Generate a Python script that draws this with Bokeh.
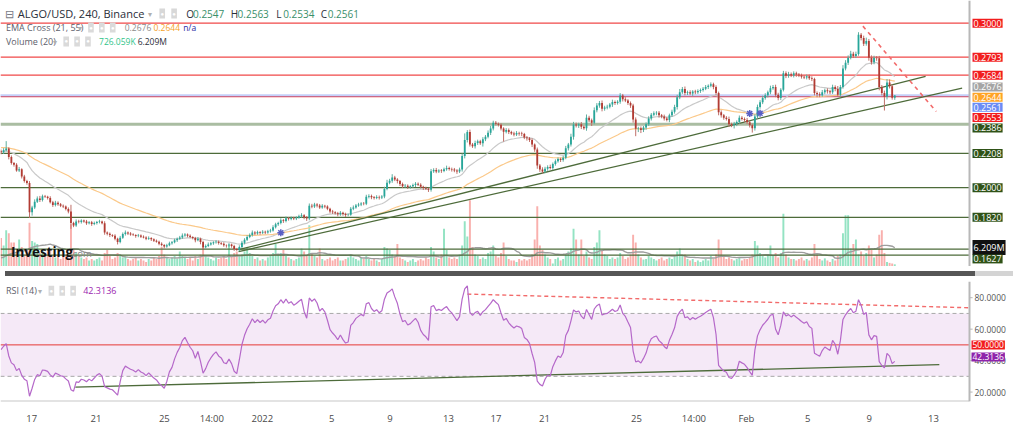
import numpy as np
from bokeh.plotting import figure
from bokeh.models import (Range1d, FixedTicker, Label, BoxAnnotation, ColumnDataSource, Div)
from bokeh.layouts import column
from bokeh.embed import file_html
from bokeh.resources import INLINE

FONT = "Open Sans"

# ---------------- data (prices in 1e-4 units, 4h candles from Dec 15) ----------------
close_e4 = [
    2215, 2228, 2238, 2186, 2150, 2140,
    2105, 2112, 2068, 2040, 2028, 1850,
    1880, 1915, 1935, 1925, 1948, 1945,
    1938, 1912, 1895, 1908, 1900, 1890,
    1886, 1870, 1856, 1785, 1770, 1795,
    1792, 1800, 1795, 1784, 1790, 1780,
    1786, 1792, 1795, 1784, 1728, 1720,
    1712, 1708, 1690, 1670, 1695, 1718,
    1728, 1722, 1716, 1712, 1706, 1710,
    1702, 1698, 1690, 1694, 1686, 1678,
    1672, 1660, 1652, 1642, 1650, 1662,
    1668, 1680, 1690, 1698, 1710, 1716,
    1708, 1700, 1694, 1680, 1690, 1670,
    1638, 1645, 1655, 1662, 1668, 1672,
    1664, 1660, 1650, 1648, 1654, 1645,
    1628, 1622, 1640, 1665, 1684, 1700,
    1712, 1728, 1722, 1730, 1726, 1732,
    1728, 1736, 1740, 1760, 1778, 1785,
    1802, 1798, 1815, 1810, 1816, 1812,
    1818, 1826, 1833, 1820, 1812, 1890,
    1885, 1898, 1892, 1880, 1890, 1885,
    1872, 1856, 1850, 1845, 1838, 1848,
    1840, 1834, 1836, 1872, 1880, 1892,
    1898, 1904, 1902, 1945, 1950, 1942,
    1938, 1944, 1940, 1946, 1992, 2030,
    2042, 2062, 2050, 2040, 2022, 2008,
    2012, 2004, 2008, 2016, 2024, 2018,
    2005, 1998, 1994, 1988, 2100, 2108,
    2098, 2104, 2102, 2112, 2120, 2114,
    2110, 2104, 2098, 2110, 2192, 2290,
    2338, 2262, 2252, 2272, 2282, 2270,
    2295, 2310, 2334, 2360, 2395, 2388,
    2382, 2360, 2340, 2350, 2338, 2330,
    2324, 2332, 2330, 2326, 2305, 2300,
    2290, 2262, 2232, 2135, 2110, 2098,
    2115, 2126, 2120, 2144, 2160, 2174,
    2168, 2182, 2240, 2262, 2310, 2384,
    2378, 2385, 2370, 2362, 2425, 2410,
    2395, 2470, 2500, 2515, 2480, 2488,
    2492, 2505, 2521, 2515, 2522, 2560,
    2538, 2530, 2515, 2500, 2415, 2358,
    2362, 2350, 2366, 2385, 2420, 2444,
    2452, 2456, 2440, 2432, 2420, 2412,
    2440, 2462, 2490, 2550, 2580, 2600,
    2575, 2580, 2572, 2584, 2580, 2588,
    2594, 2602, 2612, 2620, 2628, 2612,
    2575, 2458, 2440, 2425, 2418, 2385,
    2380, 2388, 2400, 2425, 2418, 2412,
    2398, 2380, 2362, 2432, 2490, 2520,
    2545, 2562, 2580, 2605, 2612, 2565,
    2545, 2595, 2695, 2680, 2690, 2682,
    2695, 2688, 2682, 2675, 2670, 2678,
    2665, 2660, 2575, 2568, 2562, 2580,
    2592, 2586, 2580, 2612, 2600, 2565,
    2612, 2725, 2760, 2790, 2814, 2800,
    2812, 2930, 2910, 2875, 2892, 2790,
    2762, 2790, 2786, 2612, 2575, 2552,
    2640, 2617, 2547, 2561,
]
upper_wick_e4 = [
    10, 12, 45, 8, 10, 6,   9, 14, 6, 10, 8, 12,   10, 14, 12, 15, 10, 8,
    6, 10, 8, 12, 9, 7,     8, 6, 10, 40, 8, 12,   10, 8, 6, 9, 7, 8,
    8, 6, 10, 5, 12, 6,     8, 5, 9, 6, 12, 10,    12, 6, 8, 7, 5, 9,
    6, 8, 7, 10, 5, 6,      7, 6, 8, 5, 9, 10,     8, 10, 7, 9, 12, 8,
    6, 8, 5, 7, 10, 6,      8, 10, 12, 8, 6, 9,    7, 6, 8, 5, 9, 6,
    8, 6, 10, 12, 9, 11,    10, 12, 8, 9, 6, 10,   7, 8, 10, 12, 9, 8,
    12, 8, 10, 6, 9, 7,     8, 10, 12, 6, 8, 14,   12, 10, 8, 9, 10, 6,
    8, 6, 9, 7, 8, 10,      6, 8, 7, 10, 12, 9,    10, 8, 9, 12, 10, 8,
    7, 10, 8, 9, 14, 18,    12, 20, 10, 8, 7, 9,   10, 8, 7, 9, 10, 8,
    9, 7, 8, 6, 14, 10,     12, 8, 9, 10, 14, 8,   8, 10, 9, 12, 16, 40,
    12, 15, 10, 14, 10, 9,  12, 10, 14, 15, 12, 10, 8, 9, 7, 12, 10, 8,
    10, 12, 8, 10, 7, 9,    8, 10, 7, 12, 9, 14,   12, 10, 14, 9, 12, 10,
    8, 12, 14, 10, 18, 16,  12, 10, 14, 9, 20, 12, 10, 18, 14, 12, 15, 10,
    12, 10, 14, 9, 10, 15,  10, 12, 8, 9, 10, 12,  8, 10, 9, 12, 14, 10,
    12, 9, 10, 8, 12, 10,   10, 12, 14, 15, 20, 12, 15, 10, 12, 9, 11, 10,
    9, 10, 12, 8, 12, 10,   10, 9, 12, 8, 10, 14,  10, 12, 9, 14, 10, 9,
    12, 10, 9, 14, 15, 12,  14, 12, 10, 15, 12, 14, 12, 10, 15, 12, 14, 10,
    12, 10, 9, 11, 8, 10,   10, 12, 8, 10, 12, 14, 10, 12, 9, 14, 10, 18,
    12, 20, 15, 14, 18, 12, 15, 15, 10, 14, 20, 12, 14, 12, 10, 15, 12, 15,
    20, 18, 10, 2,
]
lower_wick_e4 = [
    12, 10, 8, 14, 10, 12,  8, 10, 12, 9, 10, 34,  20, 10, 8, 12, 9, 7,
    10, 8, 12, 9, 10, 8,    10, 8, 12, 35, 10, 8,  9, 10, 8, 10, 7, 12,
    8, 10, 9, 7, 14, 10,    12, 8, 10, 15, 8, 6,   9, 10, 8, 6, 10, 7,
    8, 6, 9, 7, 10, 8,      6, 10, 8, 12, 7, 6,    8, 6, 10, 7, 9, 8,
    10, 7, 8, 12, 6, 14,    12, 8, 6, 7, 9, 8,     10, 8, 9, 12, 7, 10,
    12, 6, 8, 7, 9, 8,      7, 9, 10, 8, 12, 8,    10, 8, 9, 7, 8, 10,
    8, 12, 9, 10, 8, 9,     9, 7, 8, 12, 14, 10,   10, 8, 12, 9, 8, 10,
    9, 12, 10, 8, 12, 9,    10, 12, 8, 7, 9, 8,    8, 10, 9, 8, 10, 12,
    10, 8, 12, 9, 10, 8,    9, 12, 10, 14, 12, 10, 8, 12, 10, 9, 12, 8,
    10, 12, 8, 14, 12, 10,  10, 9, 12, 8, 9, 10,   12, 10, 14, 9, 12, 14,
    15, 12, 10, 14, 12, 10, 20, 12, 10, 14, 12, 10, 10, 12, 60, 10, 12, 9,
    12, 10, 14, 12, 10, 14, 12, 15, 14, 20, 14, 12, 10, 12, 9, 12, 10, 8,
    12, 10, 9, 14, 12, 18,  12, 15, 14, 10, 16, 12, 20, 10, 12, 14, 16, 12,
    12, 10, 14, 12, 10, 12, 14, 10, 12, 15, 20, 45, 20, 18, 12, 14, 10, 12,
    10, 12, 14, 10, 12, 9,  14, 10, 12, 15, 12, 10, 14, 12, 10, 14, 12, 10,
    12, 10, 9, 12, 10, 14,  12, 18, 14, 12, 10, 15, 12, 20, 14, 12, 10, 14,
    12, 14, 27, 15, 12, 10, 12, 10, 14, 12, 10, 15, 14, 12, 10, 14, 12, 10,
    12, 14, 10, 12, 10, 12, 10, 12, 14, 18, 12, 10, 12, 14, 12, 10, 14, 12,
    12, 10, 12, 14, 10, 12, 12, 10, 15, 14, 12, 18, 14, 12, 15, 20, 14, 83,
    16, 14, 12, 13,
]
volume_m = [
    9.5, 7.0, 12.0, 11.0, 8.0, 8.0,   5.0, 9.0, 6.5, 4.0, 5.5, 14.5,
    8.5, 8.0, 7.5, 4.5, 5.5, 4.0,     5.0, 5.5, 3.5, 3.0, 4.0, 2.5,
    3.5, 4.0, 3.0, 14.0, 6.0, 4.5,    3.5, 3.0, 2.5, 3.0, 2.0, 2.5,
    2.0, 2.5, 3.0, 2.0, 4.5, 5.5,     3.5, 2.5, 3.0, 4.5, 3.5, 3.0,
    3.5, 2.5, 2.0, 2.5, 3.0, 2.0,     2.5, 2.0, 1.5, 2.5, 2.0, 3.0,
    2.5, 3.5, 6.5, 4.0, 3.0, 2.5,     3.0, 3.5, 2.5, 5.0, 3.5, 3.0,
    2.5, 3.0, 2.0, 3.5, 2.5, 4.0,     6.5, 3.5, 3.0, 2.5, 2.0, 3.0,
    2.5, 3.0, 3.5, 2.5, 7.0, 3.5,     4.5, 5.0, 3.5, 4.0, 5.0, 6.5,
    4.5, 3.5, 2.5, 3.0, 2.0, 2.5,     2.0, 3.0, 3.5, 4.5, 7.5, 4.0,
    4.5, 5.5, 3.5, 3.0, 2.5, 2.0,     2.5, 3.0, 6.0, 5.0, 3.5, 13.7,
    4.5, 3.5, 3.0, 6.0, 2.5, 2.0,     2.5, 3.0, 2.0, 2.5, 3.0, 2.0,
    2.0, 2.5, 3.0, 4.0, 3.0, 2.5,     2.0, 3.0, 2.5, 3.5, 2.5, 2.0,
    2.5, 2.0, 1.5, 2.5, 6.5, 6.0,     5.5, 4.0, 3.5, 7.5, 3.0, 2.5,
    2.0, 1.5, 2.0, 2.5, 1.5, 2.0,     2.5, 2.0, 3.0, 2.5, 6.5, 5.0,
    3.0, 2.5, 4.0, 12.5, 5.5, 3.0,    2.5, 3.0, 2.5, 4.0, 7.0, 15.0,
    10.0, 22.0, 6.5, 4.0, 3.5, 2.5,   3.0, 2.5, 4.5, 5.0, 7.0, 3.5,
    3.0, 4.5, 8.0, 3.5, 2.5, 2.0,     2.0, 1.5, 2.5, 2.0, 2.5, 2.0,
    2.5, 4.0, 9.0, 20.0, 7.0, 5.5,    4.0, 3.0, 2.5, 1.0, 2.5, 3.0,
    2.0, 2.5, 4.0, 5.0, 6.0, 12.5,    9.0, 4.0, 9.0, 3.5, 5.0, 3.0,
    2.5, 6.5, 8.0, 12.0, 5.5, 4.0,    3.5, 2.5, 3.0, 2.5, 3.0, 4.5,
    3.5, 2.5, 3.0, 4.0, 10.5, 8.0,    4.0, 3.0, 2.3, 2.5, 3.5, 3.0,
    2.5, 2.0, 2.5, 3.0, 2.0, 2.5,     3.0, 2.5, 3.5, 5.0, 6.0, 3.5,
    4.0, 2.5, 2.0, 2.5, 1.5, 2.0,     1.5, 2.0, 2.5, 2.0, 3.5, 2.5,
    4.0, 9.0, 5.5, 3.5, 2.5, 3.0,     2.5, 2.0, 2.5, 3.0, 2.0, 2.5,
    2.5, 3.0, 4.0, 8.5, 7.0, 4.5,     3.5, 3.0, 4.0, 7.0, 3.5, 4.5,
    3.0, 4.5, 17.5, 4.0, 3.0, 2.5,    2.5, 2.0, 2.5, 3.0, 2.0, 2.5,
    2.0, 3.0, 7.5, 4.0, 2.5, 2.0,     2.7, 2.0, 1.5, 2.5, 2.0, 3.5,
    4.0, 11.0, 17.0, 17.0, 6.0, 7.5,  9.0, 4.0, 5.0, 3.5, 4.5, 7.0,
    5.5, 3.0, 4.0, 10.5, 12.0, 4.5,   1.5, 1.2, 1.0, 0.726,
]
first_open_e4 = 2222
ema21_prior = 0.2222
ema55_prior = 0.2245
volume_prior_avg_m = 2.5
rsi_prior_gain = 0.0012
rsi_prior_loss = 0.0013

tick_pos = [11.85, 36.68, 63.05, 81.39, 100.88, 127.63, 150.17, 172.72,
            191.06, 209.78, 245.32, 267.48, 287.73, 311.43, 335.12, 359.95]
tick_text = ["17", "21", "25", "14:00", "2022", "5", "9", "13",
             "17", "21", "25", "14:00", "Feb", "5", "9", "13"]

resistance_levels = [0.3000, 0.2793, 0.2684, 0.2553]
support_levels = [0.2208, 0.2000, 0.1820, 0.1627, 0.1590]
zone_level = 0.2386
last_price = 0.2561

trend_a_x, trend_a_y = [91.7, 356.9], [0.1623, 0.2677]
trend_b_x, trend_b_y = [91.7, 371.0], [0.1611, 0.2605]
down_x, down_y = [332.7, 361.0], [0.2982, 0.2463]
rsi_up_x, rsi_up_y = [28.7, 362.2], [23.1, 37.4]
rsi_down_x, rsi_down_y = [180.0, 373.8], [82.3, 73.6]

rsi_ticks = [20, 40, 60, 80]

# right-hand price labels: text, value, colour, displayed (de-overlapped) position
price_tags = [
    ("0.3000", 0.3000, "#f21d1d", 0.3000),
    ("0.2793", 0.2793, "#f21d1d", 0.2793),
    ("0.2684", 0.2684, "#f21d1d", 0.2684),
    ("0.2676", 0.2676, "#a5a5a5", 0.26126),
    ("0.2644", 0.2644, "#ffa425", 0.25491),
    ("0.2561", 0.2561, "#6a8cf5", 0.24892),
    ("0.2553", 0.2553, "#f21d1d", 0.24269),
    ("0.2386", 0.2386, "#2f5217", 0.23635),
    ("0.2208", 0.2208, "#2f5217", 0.2208),
    ("0.2000", 0.2000, "#2f5217", 0.2000),
    ("0.1820", 0.1820, "#2f5217", 0.1820),
    ("6.209M", 6.209, "#111111", 0.16365),
    ("0.1627", 0.1627, "#2f5217", 0.15671),
]

# ---------------- derived series ----------------
n = len(close_e4)
idx = np.arange(n, dtype=float)
c = np.array(close_e4) / 1e4
o = np.r_[first_open_e4 / 1e4, c[:-1]]
hi = np.maximum(o, c) + np.array(upper_wick_e4) / 1e4
lo = np.minimum(o, c) - np.array(lower_wick_e4) / 1e4
up = c >= o
top = np.maximum(o, c)
bot = np.minimum(o, c)
bot = np.where(top - bot < 0.00008, top - 0.00008, bot)

def ema(series, span, prior):
    a = 2.0 / (span + 1)
    out, e = [], prior
    for v in series:
        e = e + a * (v - e)
        out.append(e)
    return np.array(out)

ema21 = ema(c, 21, ema21_prior)
ema55 = ema(c, 55, ema55_prior)

vol = np.array(volume_m)
padded = np.r_[np.full(19, volume_prior_avg_m), vol]
vma = np.array([padded[i:i + 20].mean() for i in range(n)])

ag, al = rsi_prior_gain, rsi_prior_loss
rsi = []
for d in (c - o):
    ag = (ag * 13 + max(d, 0)) / 14
    al = (al * 13 + max(-d, 0)) / 14
    rsi.append(100 - 100 / (1 + ag / al))
rsi = np.array(rsi)

diff = ema21 - ema55
cross_i = [i for i in range(1, n) if np.sign(diff[i]) != np.sign(diff[i - 1])]
cross_y = [(ema21[i] + ema55[i]) / 2 for i in cross_i]

UPC, DNC = "#26a69a", "#b23b33"
src = ColumnDataSource(dict(
    x=idx, hi=hi, lo=lo, top=top, bot=bot, vol=vol,
    body=[UPC if u else DNC for u in up],
    wick=["#5fae9f" if u else "#bf6f68" for u in up],
    vcol=["#94e3c3" if u else "#f9b0ad" for u in up],
))

# ---------------- layout geometry ----------------
W = 1008
H_MAIN, H_DIV, H_RSI = 266, 5, 146
X_START, X_END = -0.2, 388.9          # frame covers the whole width
AXIS_X = 373.85                       # position of the price-scale line
Y_LO, Y_HI = 0.15210, 0.31377
VOL_HI = 88.3
R_LO, R_HI = 14.0, 90.3
xr = Range1d(X_START, X_END)

def mx(px):          # reference pixel -> candle index
    return px / 2.617

def my(py):          # reference pixel -> price
    return 0.3 - (py - 23) / 1670.0

def ry(py):          # reference pixel -> RSI value
    return 80 - (py - 294.7) / 1.822

has_pad = "padding" in Label.properties()

def txt(fig, x, y, text, color="#2a2e39", size="10px", style="normal", bg=None, xo=0, align="left"):
    kw = dict(x=x, y=y, text=text, text_font=FONT, text_font_size=size, text_color=color,
              text_font_style=style, text_align=align, text_baseline="middle", x_offset=xo)
    if bg is not None:
        kw.update(background_fill_color=bg, background_fill_alpha=1.0)
        if has_pad:
            kw["padding"] = 1
    fig.add_layout(Label(**kw))

def hline(fig, y, **kw):
    fig.line([X_START, AXIS_X], [y, y], **kw)

# ---------------- main price panel ----------------
p = figure(width=W, height=H_MAIN, x_range=xr, y_range=Range1d(Y_LO, Y_HI),
           output_backend="svg", toolbar_location=None, x_axis_location=None,
           y_axis_location=None, min_border=0)
p.extra_y_ranges = {"vol": Range1d(0, VOL_HI)}
p.grid.grid_line_color = None
p.outline_line_color = None
p.background_fill_color = "white"

p.vbar(x="x", width=0.75, top="vol", bottom=0, y_range_name="vol", source=src,
       fill_color="vcol", line_color=None)
p.line(idx, vma, y_range_name="vol", line_color="#9e9e9e", line_width=1.4)

for lv in support_levels:
    hline(p, lv, line_color="#4d6b3a", line_width=1.2)
hline(p, zone_level, line_color="#aabda2", line_width=3)
for lv in resistance_levels:
    hline(p, lv, line_color="#f04848", line_width=1.2)
hline(p, last_price, line_color="#8aa0f2", line_width=2.5, line_dash="1 1")

p.line(idx, ema21, line_color="#c9c9c9", line_width=1.2)
p.line(idx, ema55, line_color="#fbc98a", line_width=1.2)

p.line(trend_a_x, trend_a_y, line_color="#4d6b3a", line_width=1.3)
p.line(trend_b_x, trend_b_y, line_color="#4d6b3a", line_width=1.3)
p.line(down_x, down_y, line_color="#f26b6b", line_width=1.6, line_dash="4 4")

p.segment(x0="x", y0="lo", x1="x", y1="hi", line_color="wick", line_width=1, source=src)
p.vbar(x="x", width=0.7, top="top", bottom="bot", fill_color="body", line_color=None, source=src)

if cross_i:
    p.scatter(cross_i, cross_y, marker="asterisk", size=7, line_color="#5a5fc4", line_width=1.5)

# price scale line
p.line([AXIS_X, AXIS_X], [Y_LO, Y_HI], line_color="#b8b8b8", line_width=2)

# legend rows
G = "#3a8f6a"
txt(p, mx(4), my(13.3), "⊟", "#787b86", "11px")
txt(p, mx(17), my(13.3), "ALGO/USD, 240, Binance", "#2a2e39", "11px")
txt(p, mx(148), my(13.3), "▾", "#b0b0b0", "8px")
for ix in (160, 172):
    txt(p, mx(ix), my(13.3), "●", "white", "6px", bg="#d8d8d8")
for lx, letter, val in ((187, "O", "0.2547"), (232, "H", "0.2563"),
                        (278, "L", "0.2534"), (323, "C", "0.2561")):
    txt(p, mx(lx), my(13.3), letter, "#2a2e39", "10px")
    txt(p, mx(lx + 7), my(13.3), val, G, "10px")

txt(p, mx(5), my(27.5), "EMA Cross (21, 55)", "#5d606b", "9px")
txt(p, mx(78), my(27.5), "▾", "#b0b0b0", "8px")
for ix in (88, 99, 110):
    txt(p, mx(ix), my(27.5), "●", "white", "6px", bg="#dadada")
txt(p, mx(125), my(27.5), "0.2676", "#8c8c8c", "8.5px")
txt(p, mx(154), my(27.5), "0.2644", "#f5a11f", "8.5px")
txt(p, mx(184), my(27.5), "n/a", "#2b2ba3", "8.5px")

txt(p, mx(5), my(41.5), "Volume (20)", "#5d606b", "9px")
txt(p, mx(53), my(41.5), "▾", "#b0b0b0", "8px")
for ix in (63, 74, 85):
    txt(p, mx(ix), my(41.5), "●", "white", "6px", bg="#dadada")
txt(p, mx(99), my(41.5), "726.059K", "#2fc48a", "8.5px")
txt(p, mx(138), my(41.5), "6.209M", "#2a2e39", "8.5px")

txt(p, mx(10), my(255), "Investing", "#111111", "13.5px", style="bold")
txt(p, mx(70), my(256.5), ".com", "#888888", "9.5px")

for text, value, bg, shown in price_tags:
    txt(p, AXIS_X, shown, text, "white", "9px", bg=bg, xo=3)

# ---------------- divider ----------------
div = Div(text="", width=W, height=H_DIV,
          styles={"background": "linear-gradient(to right, #565656 970px, #d4d4d4 970px)"})

# ---------------- RSI panel ----------------
r = figure(width=W, height=H_RSI, x_range=xr, y_range=Range1d(R_LO, R_HI),
           output_backend="svg", toolbar_location=None, x_axis_location="below",
           y_axis_location=None, min_border_left=0, min_border_top=0,
           min_border_right=0, min_border_bottom=17)
r.grid.grid_line_color = None
r.outline_line_color = None

r.xaxis.ticker = FixedTicker(ticks=tick_pos)
r.xaxis.major_label_overrides = {t: s for t, s in zip(tick_pos, tick_text)}
r.xaxis.major_label_text_font = FONT
r.xaxis.major_label_text_font_size = "9.5px"
r.xaxis.major_label_text_color = "#4a4a4a"
r.xaxis.axis_line_color = None
r.xaxis.major_tick_line_color = None
r.xaxis.minor_tick_line_color = None
r.xaxis.major_label_standoff = 4

r.add_layout(BoxAnnotation(left=X_START, right=AXIS_X, bottom=30, top=70,
                           fill_color="#9c27b0", fill_alpha=0.1,
                           line_color=None, level="underlay"))
for lv in (30, 70):
    hline(r, lv, line_color="#a8a8a8", line_width=1, line_dash="4 3")
hline(r, 50, line_color="#e53935", line_width=1)
hline(r, R_LO, line_color="#c8c8c8", line_width=2)

r.line(rsi_up_x, rsi_up_y, line_color="#4d6b3a", line_width=1.3)
r.line(rsi_down_x, rsi_down_y, line_color="#f26b6b", line_width=1.4, line_dash="4 3")
r.line(idx, rsi, line_color="#b568c9", line_width=1.2)

# RSI scale
r.line([AXIS_X, AXIS_X], [R_LO, R_HI], line_color="#b8b8b8", line_width=2)
for v in rsi_ticks:
    r.line([AXIS_X, AXIS_X + 1.2], [v, v], line_color="#b8b8b8", line_width=1)
    txt(r, AXIS_X, v, f"{v:.4f}", "#555555", "8.5px", xo=5)

txt(r, mx(5), ry(286.7), "RSI (14)", "#5d606b", "9px")
txt(r, mx(37), ry(286.7), "▾", "#b0b0b0", "8px")
for ix in (48, 59, 70):
    txt(r, mx(ix), ry(286.7), "●", "white", "6px", bg="#dadada")
txt(r, mx(83), ry(286.7), "42.3136", "#9c27b0", "9px")

txt(r, AXIS_X, 50, "50.0000", "white", "8.5px", bg="#f21d1d", xo=2)
txt(r, AXIS_X, 42.3136, "42.3136", "white", "8.5px", bg="#8e24aa", xo=2)

layout = column(p, div, r)
open("out.html", "w").write(file_html(layout, INLINE))
